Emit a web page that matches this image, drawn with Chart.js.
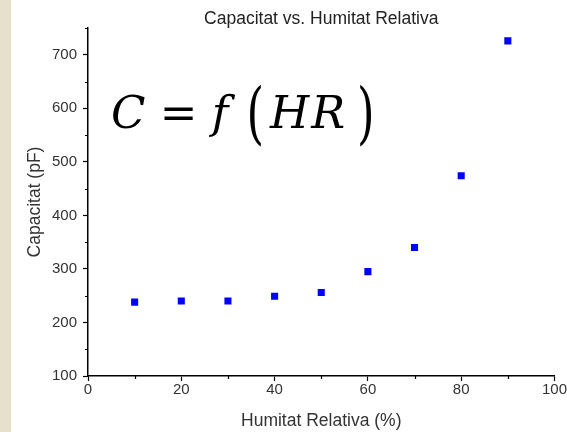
<!DOCTYPE html>
<html>
<head>
<meta charset="utf-8">
<script src="https://cdn.jsdelivr.net/npm/chart.js@4.4.1/dist/chart.umd.min.js"></script>
<style>
  html, body { margin: 0; padding: 0; background: #fff; }
  #wrap { position: relative; width: 567px; height: 432px; overflow: hidden; }
  #strip { position: absolute; left: 0; top: 0; width: 11px; height: 432px; background: #e6e0cc; }
  #chart { position: absolute; left: 0; top: 0; }
  #formula {
    position: absolute; left: 111px; top: 90px;
    font-family: 'DejaVu Serif', serif; font-size: 45px; color: #000;
    white-space: pre; line-height: 1;
  }
  #formula i { font-style: italic; }
  #formula .p { display: inline-block; transform: scaleY(1.5); }
</style>
</head>
<body>
<div id="wrap">
  <canvas id="chart" width="567" height="432"></canvas>
  <div id="strip"></div>
  <div id="formula"><i>C</i> = <i>f</i><span class="p" style="margin-left:18px">(</span><i style="margin-left:6px;letter-spacing:2px">HR</i><span class="p" style="margin-left:10px">)</span></div>
</div>
<script>
// values
const humitat = [10, 20, 30, 40, 50, 60, 70, 80, 90];      // % HR
const capacitat = [238, 240, 240, 249, 256, 295, 340, 474, 726]; // pF
const xMinor = [10, 30, 50, 70, 90];
const yMinor = [150, 250, 350, 450, 550, 650, 750];

const points = humitat.map((h, i) => ({ x: h, y: capacitat[i] }));

const axisFont = { family: 'Arial, "Liberation Sans", sans-serif', size: 15 };
const titleFont = { family: 'Arial, "Liberation Sans", sans-serif', size: 17.5 };

// short minor ticks, like the original plot
const minorTicks = {
    id: 'minorTicks',
    afterDraw(chart) {
        const { ctx, scales: { x, y } } = chart;
        ctx.save();
        ctx.strokeStyle = '#000';
        ctx.lineWidth = 1.2;
        ctx.beginPath();
        xMinor.forEach(v => {
            const px = Math.round(x.getPixelForValue(v)) + 0.5;
            ctx.moveTo(px, x.top);
            ctx.lineTo(px, x.top + 3);
        });
        yMinor.forEach(v => {
            const py = Math.round(y.getPixelForValue(v)) + 0.5;
            ctx.moveTo(y.right, py);
            ctx.lineTo(y.right - 3, py);
        });
        ctx.stroke();
        ctx.restore();
    }
};

new Chart(document.getElementById('chart'), {
    type: 'scatter',
    data: {
        datasets: [{
            data: points,
            pointStyle: 'rect',
            pointRadius: 5,
            pointHoverRadius: 5,
            borderWidth: 0,
            backgroundColor: '#0000ff',
            borderColor: '#0000ff'
        }]
    },
    plugins: [minorTicks],
    options: {
        responsive: false,
        devicePixelRatio: 1,
        animation: false,
        layout: { padding: { left: 11, right: 11, top: 0, bottom: 0 } },
        plugins: {
            legend: { display: false },
            tooltip: { enabled: false },
            title: {
                display: true,
                fullSize: false,
                text: 'Capacitat vs. Humitat Relativa',
                color: '#222',
                font: { ...titleFont, weight: 'normal', lineHeight: 1 },
                padding: { top: 10, bottom: 0.5 }
            }
        },
        scales: {
            x: {
                type: 'linear',
                min: 0,
                max: 100,
                afterFit: s => { s.height = 56; },
                border: { display: true, color: '#000', width: 1.5 },
                grid: { drawOnChartArea: false, drawTicks: true, tickLength: 5, tickColor: '#000', tickWidth: 1.2 },
                ticks: {
                    stepSize: 20,
                    maxRotation: 0,
                    padding: 0,
                    color: '#333',
                    font: axisFont
                },
                title: {
                    display: true,
                    text: 'Humitat Relativa (%)',
                    color: '#333',
                    font: titleFont,
                    padding: { top: 0, bottom: 0 }
                }
            },
            y: {
                type: 'linear',
                min: 100,
                max: 750,
                afterFit: s => { s.width = 77; },
                afterBuildTicks: s => { s.ticks = s.ticks.filter(t => t.value % 100 === 0); },
                border: { display: true, color: '#000', width: 1.5 },
                grid: { drawOnChartArea: false, drawTicks: true, tickLength: 5, tickColor: '#000', tickWidth: 1.2 },
                ticks: {
                    stepSize: 100,
                    padding: 6,
                    color: '#333',
                    font: axisFont
                },
                title: {
                    display: true,
                    text: 'Capacitat (pF)',
                    color: '#333',
                    font: titleFont,
                    padding: { top: 14, bottom: 0 }
                }
            }
        }
    }
});
</script>
</body>
</html>
